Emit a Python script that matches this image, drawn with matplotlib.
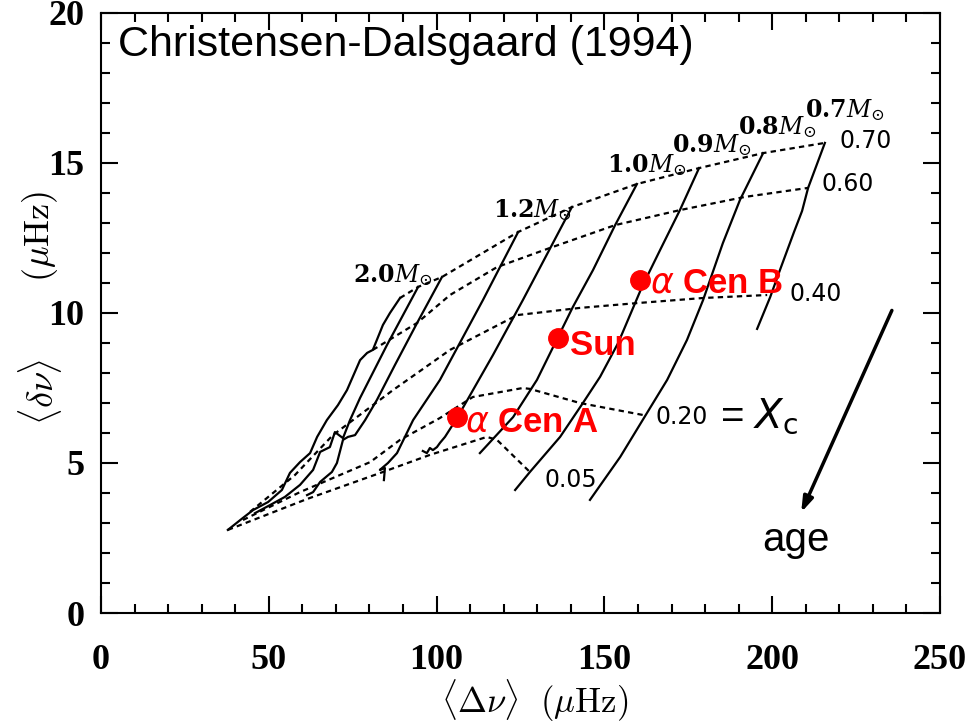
import matplotlib
matplotlib.use('Agg')
import matplotlib.pyplot as plt
from matplotlib.ticker import MultipleLocator

plt.rcParams['mathtext.fontset'] = 'cm'

# evolution tracks: <Delta nu> (x) and <delta nu> (y), muHz, from high mass to low mass
track1_x = [89.1, 86.1, 84.0, 81.0, 79.3, 77.2, 73.3, 70.6, 67.3, 64.4, 62.3, 59.3, 56.3, 53.9, 49.8, 45.3, 42.3, 37.8]
track1_y = [10.50, 10.00, 9.60, 8.77, 8.67, 8.43, 7.43, 6.93, 6.43, 5.87, 5.33, 5.03, 4.67, 4.10, 3.70, 3.43, 3.17, 2.77]
track2_x = [94.5, 85.2, 77.2, 74.2, 72.1, 69.7, 68.2, 65.3, 63.2, 59.3, 54.8, 50.4, 45.9]
track2_y = [10.87, 8.93, 7.17, 6.43, 5.83, 6.03, 5.53, 5.37, 4.77, 4.27, 3.87, 3.60, 3.33]
track3_x = [101.6, 94.2, 87.6, 82.2, 78.7, 75.7, 73.6, 72.1, 70.3, 68.8, 65.3, 63.2, 61.4]
track3_y = [11.20, 9.67, 8.27, 7.10, 6.43, 5.93, 5.87, 5.77, 5.00, 4.70, 4.37, 4.03, 3.93]
track4_x = [124.3, 113.8, 101.0, 93.0, 88.2, 85.5, 83.1, 84.6, 84.3]
track4_y = [12.70, 10.43, 7.77, 6.43, 5.33, 5.00, 4.77, 4.83, 4.43]
track5_x = [140.3, 125.7, 116.8, 106.1, 102.5, 101.0, 100.1, 98.9, 98.0, 97.1, 95.9]
track5_y = [13.53, 10.43, 8.60, 6.50, 5.87, 5.67, 5.53, 5.43, 5.50, 5.33, 5.40]
track6_x = [159.7, 153.2, 146.6, 140.6, 136.2, 129.9, 122.8, 112.9]
track6_y = [14.30, 12.93, 11.43, 10.20, 9.20, 7.77, 6.53, 5.33]
track7_x = [178.2, 172.5, 166.6, 161.2, 154.1, 148.7, 143.6, 136.8, 127.8, 123.4]
track7_y = [14.83, 13.43, 12.10, 10.87, 9.00, 7.87, 7.00, 5.87, 4.70, 4.10]
track8_x = [197.3, 190.4, 185.3, 179.4, 174.6, 168.7, 162.7, 154.7, 145.7]
track8_y = [15.33, 13.77, 12.33, 10.43, 9.10, 7.77, 6.67, 5.20, 3.77]
track9_x = [215.7, 210.7, 208.9, 206.5, 202.3, 199.4, 195.5]
track9_y = [15.67, 14.17, 13.40, 12.70, 11.43, 10.53, 9.47]

# lines of constant central hydrogen X_c
xc070_x = [89.1, 94.5, 101.6, 124.3, 140.3, 159.7, 178.2, 197.3, 215.7]
xc070_y = [10.50, 10.87, 11.20, 12.70, 13.53, 14.30, 14.83, 15.33, 15.67]
xc060_x = [81.0, 94.2, 104.0, 118.0, 133.8, 153.2, 172.5, 191.9, 210.7]
xc060_y = [8.77, 9.67, 10.60, 11.53, 12.17, 12.93, 13.43, 13.87, 14.17]
xc040_x = [44.4, 57.8, 69.1, 87.0, 104.0, 124.0, 142.7, 159.7, 179.4, 198.5]
xc040_y = [3.37, 4.60, 5.93, 7.43, 8.77, 9.93, 10.17, 10.33, 10.50, 10.60]
xc020_x = [42.3, 59.3, 80.2, 89.1, 101.0, 110.8, 125.7, 127.8, 142.7, 161.5]
xc020_y = [3.10, 4.03, 5.03, 5.77, 6.50, 7.20, 7.50, 7.47, 7.00, 6.60]
xc005_x = [37.8, 61.4, 84.0, 98.0, 115.0, 118.0, 127.8]
xc005_y = [2.77, 3.80, 4.70, 5.27, 5.87, 5.77, 4.70]

# stars
star_names = [r'$\alpha$ Cen A', 'Sun', r'$\alpha$ Cen B']
star_x = [106.2, 136.3, 160.6]
star_y = [6.54, 9.16, 11.10]

mass_labels = ['2.0', '1.2', '1.0', '0.9', '0.8', '0.7']
xc_labels = ['0.70', '0.60', '0.40', '0.20', '0.05']

tracks = [(track1_x, track1_y), (track2_x, track2_y), (track3_x, track3_y),
          (track4_x, track4_y), (track5_x, track5_y), (track6_x, track6_y),
          (track7_x, track7_y), (track8_x, track8_y), (track9_x, track9_y)]
xc_lines = [(xc070_x, xc070_y), (xc060_x, xc060_y), (xc040_x, xc040_y),
            (xc020_x, xc020_y), (xc005_x, xc005_y)]

fig = plt.figure(figsize=(9.7, 7.27), dpi=100)
ax = fig.add_axes([101/970, 114/727, 839/970, 600/727])

for tx, ty in tracks:
    ax.plot(tx, ty, color='black', lw=1.6, solid_joinstyle='round')
for lx, ly in xc_lines:
    ax.plot(lx, ly, color='black', lw=1.6, linestyle=(0, (2.4, 1.9)))

ax.plot(star_x, star_y, 'o', color='red', ms=14, mec='red')
star_off = [(2.3, -0.17), (3.4, -0.25), (3.0, -0.1)]
for name, sx, sy, (dx, dy) in zip(star_names, star_x, star_y, star_off):
    ax.text(sx + dx, sy + dy, name, color='red', fontsize=25, fontweight='bold',
            family='Liberation Sans', math_fontfamily='dejavusans', va='center', ha='left')

# mass labels (left edge, centre)
mass_pos = [(75.1, 11.27), (116.8, 13.43), (150.8, 14.93), (170.1, 15.6), (189.8, 16.2), (209.8, 16.77)]
for lab, (px, py) in zip(mass_labels, mass_pos):
    ax.text(px, py, r'$\mathbf{' + lab + r'}M_{\odot}$', fontsize=17, va='center', ha='left',
            math_fontfamily='dejavuserif')

xc_pos = [(220.2, 15.73), (214.8, 14.3), (205.3, 10.63), (165.1, 6.53), (132.3, 4.43)]
for lab, (px, py) in zip(xc_labels, xc_pos):
    ax.text(px, py, lab, fontsize=17, family='DejaVu Sans', va='center', ha='left')
ax.text(184.4, 6.55, r'= $X_{\rm c}$', fontsize=29, family='Liberation Sans',
        math_fontfamily='dejavusans', va='center', ha='left')

ax.text(5.1, 18.93, 'Christensen-Dalsgaard (1994)', fontsize=31, family='Liberation Sans',
        va='center', ha='left')

ax.annotate('', xy=(208.3, 3.27), xytext=(236.0, 10.17),
            arrowprops=dict(arrowstyle='-|>,head_length=0.9,head_width=0.3', lw=2.5, color='black'))
ax.text(207.1, 2.43, 'age', fontsize=29, family='Liberation Sans', va='center', ha='center')

ax.set_xlim(0, 250)
ax.set_ylim(0, 20)
ax.xaxis.set_major_locator(MultipleLocator(50))
ax.xaxis.set_minor_locator(MultipleLocator(10))
ax.yaxis.set_major_locator(MultipleLocator(5))
ax.yaxis.set_minor_locator(MultipleLocator(1))
ax.tick_params(which='both', direction='in', top=True, right=True, width=1.5)
ax.tick_params(which='major', length=12)
ax.tick_params(which='minor', length=6.5)
ax.tick_params(axis='x', pad=22)
ax.tick_params(axis='y', pad=12)
for lab in ax.get_xticklabels() + ax.get_yticklabels():
    lab.set_family('Liberation Serif')
    lab.set_fontweight('bold')
    lab.set_fontsize(26)
for sp in ax.spines.values():
    sp.set_linewidth(1.5)

ax.set_xlabel(r'$\langle\Delta\nu\rangle\ \ (\mu{\rm Hz})$', fontsize=25)
ax.xaxis.set_label_coords(0.517, -0.108)
# y label in two pieces, the "10" tick label sits in the gap as in the original
ax.text(-0.073, 0.368, r'$\langle\delta\nu\rangle$', fontsize=26, rotation=90,
        transform=ax.transAxes, ha='center', va='center')
ax.text(-0.073, 0.627, r'$(\mu{\rm Hz})$', fontsize=26, rotation=90,
        transform=ax.transAxes, ha='center', va='center')

fig.savefig('out.png', dpi=100)
